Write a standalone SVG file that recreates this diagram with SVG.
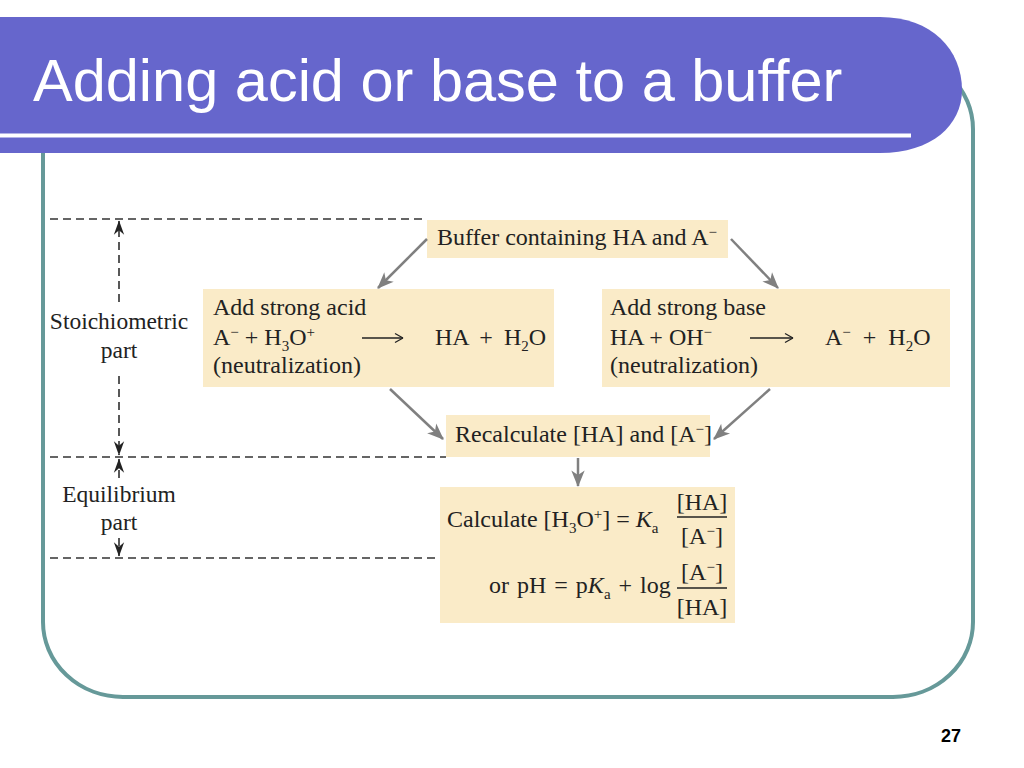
<svg xmlns="http://www.w3.org/2000/svg" width="1024" height="768" viewBox="0 0 1024 768">
<style>
.box{fill:#FAEBC8}
.t{font-family:"Liberation Serif","Times New Roman",serif;font-size:24px;fill:#222}
.lt{font-family:"Liberation Serif","Times New Roman",serif;font-size:23.5px;fill:#222;text-anchor:middle}
.s{font-size:15px}
.dash{stroke:#333;stroke-width:1.6;stroke-dasharray:8 5;fill:none}
.vd{stroke:#222;stroke-width:1.5;stroke-dasharray:8 5;fill:none}
.ga{stroke:#808080;stroke-width:2.5;fill:none}
.eq{stroke:#222;stroke-width:1.5;fill:none}
</style>
<defs>
<marker id="gh" markerUnits="userSpaceOnUse" markerWidth="20" markerHeight="20" refX="0" refY="0" viewBox="-16 -8 18 16" orient="auto">
<path d="M1,0 L-14,-6 L-10,0 L-14,6 Z" fill="#808080"/>
</marker>
<marker id="bh" markerUnits="userSpaceOnUse" markerWidth="16" markerHeight="16" refX="0" refY="0" viewBox="-13 -6 14 12" orient="auto">
<path d="M0.5,0 L-12,-4.5 L-8,0 L-12,4.5 Z" fill="#222"/>
</marker>
<marker id="mh" markerUnits="userSpaceOnUse" markerWidth="12" markerHeight="12" refX="0" refY="0" viewBox="-10 -6 11 12" orient="auto">
<path d="M0,0 L-8,-4.5 M0,0 L-8,4.5" stroke="#222" stroke-width="1.3" fill="none"/>
</marker>
</defs>

<!-- frame -->
<rect id="frame" x="43" y="54" width="930" height="643" rx="80" ry="75" fill="none" stroke="#669999" stroke-width="4"/>

<!-- title banner -->
<g id="banner">
<path d="M0,17 H880 C932,17 962,50 962,90 C962,125 932,153 880,153 H0 Z" fill="#6666CC"/>
<rect x="0" y="133.5" width="911" height="4" fill="#FFFFFF"/>
<text x="33" y="101" font-family="'Liberation Sans',Arial,sans-serif" font-size="59.5" fill="#FFFFFF">Adding acid or base to a buffer</text>
</g>

<!-- region guides -->
<g id="guides">
<line class="dash" x1="50" y1="219" x2="427" y2="219"/>
<line class="dash" x1="50" y1="457" x2="446" y2="457"/>
<line class="dash" x1="50" y1="558" x2="440" y2="558"/>
<path class="vd" d="M119,302 V221" marker-end="url(#bh)"/>
<path class="vd" d="M119,376 V455" marker-end="url(#bh)"/>
<path class="vd" d="M119,478 V459" marker-end="url(#bh)"/>
<path class="vd" d="M119,538 V556" marker-end="url(#bh)"/>
</g>
<g id="label-stoich">
<text class="lt" x="119" y="329">Stoichiometric</text>
<text class="lt" x="119" y="358">part</text>
</g>
<g id="label-equil">
<text class="lt" x="119" y="502">Equilibrium</text>
<text class="lt" x="119" y="530">part</text>
</g>

<!-- nodes -->
<g id="buffer">
<rect class="box" x="427" y="220" width="301" height="38"/>
<text class="t" x="437" y="245">Buffer containing HA and A<tspan class="s" baseline-shift="super">−</tspan></text>
</g>

<g id="acid">
<rect class="box" x="203" y="289" width="351" height="98"/>
<text class="t" x="213" y="315">Add strong acid</text>
<text class="t" x="213" y="345">A<tspan class="s" baseline-shift="super">−</tspan> + H<tspan class="s" baseline-shift="-6">3</tspan>O<tspan class="s" baseline-shift="super">+</tspan></text>
<path class="eq" d="M362,338 H403" marker-end="url(#mh)"/>
<text class="t" x="435" y="345" word-spacing="5">HA + H<tspan class="s" baseline-shift="-6">2</tspan>O</text>
<text class="t" x="213" y="373">(neutralization)</text>
</g>

<g id="base">
<rect class="box" x="602" y="289" width="348" height="98"/>
<text class="t" x="610" y="315">Add strong base</text>
<text class="t" x="610" y="345">HA + OH<tspan class="s" baseline-shift="super">−</tspan></text>
<path class="eq" d="M750,338 H793" marker-end="url(#mh)"/>
<text class="t" x="825" y="345" word-spacing="6">A<tspan class="s" baseline-shift="super">−</tspan> + H<tspan class="s" baseline-shift="-6">2</tspan>O</text>
<text class="t" x="610" y="373">(neutralization)</text>
</g>

<g id="recalc">
<rect class="box" x="446" y="415" width="264" height="42"/>
<text class="t" x="455" y="442">Recalculate [HA] and [A<tspan class="s" baseline-shift="super">−</tspan>]</text>
</g>

<g id="calc">
<rect class="box" x="440" y="487" width="295" height="136"/>
<text class="t" x="447" y="527">Calculate [H<tspan class="s" baseline-shift="-6">3</tspan>O<tspan class="s" baseline-shift="super">+</tspan>] = <tspan font-style="italic">K</tspan><tspan class="s" baseline-shift="-6">a</tspan></text>
<text class="t" x="702" y="510" text-anchor="middle">[HA]</text>
<line class="eq" x1="677" y1="517" x2="727" y2="517"/>
<text class="t" x="702" y="544" text-anchor="middle">[A<tspan class="s" baseline-shift="super">−</tspan>]</text>
<text class="t" x="489" y="593" word-spacing="2">or pH = p<tspan font-style="italic">K</tspan><tspan class="s" baseline-shift="-6">a</tspan> + log</text>
<text class="t" x="702" y="580" text-anchor="middle">[A<tspan class="s" baseline-shift="super">−</tspan>]</text>
<line class="eq" x1="677" y1="588" x2="727" y2="588"/>
<text class="t" x="702" y="615" text-anchor="middle">[HA]</text>
</g>

<!-- connectors -->
<g id="connectors">
<path class="ga" d="M427,239 L378,288" marker-end="url(#gh)"/>
<path class="ga" d="M731,239 L778,288" marker-end="url(#gh)"/>
<path class="ga" d="M390,389 L443,439" marker-end="url(#gh)"/>
<path class="ga" d="M770,389 L714,439" marker-end="url(#gh)"/>
<path class="ga" d="M578,458 V486" marker-end="url(#gh)"/>
</g>

<text id="page" x="951" y="742" text-anchor="middle" font-family="'Liberation Sans',Arial,sans-serif" font-weight="bold" font-size="18" fill="#000">27</text>
</svg>
